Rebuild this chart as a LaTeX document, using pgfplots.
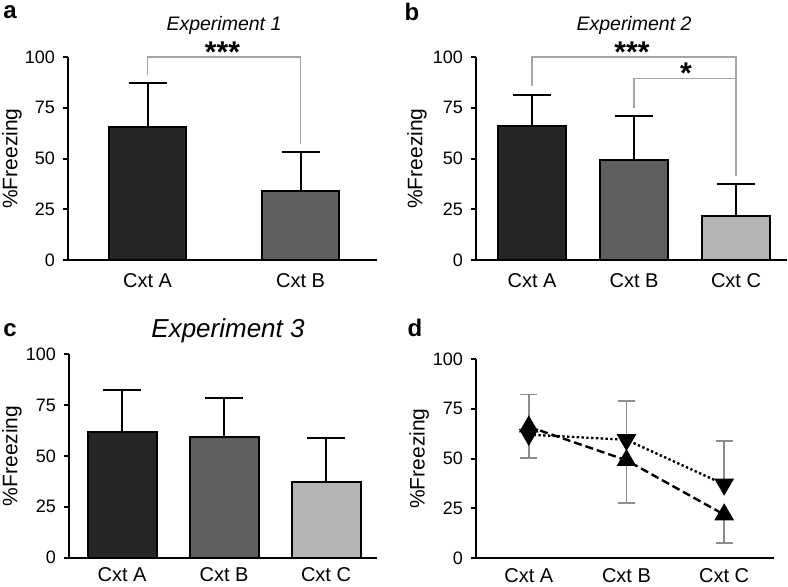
\documentclass[border=0pt]{standalone}
\usepackage{fontspec}
\setmainfont{Liberation Sans}
\usepackage{pgfplots}
\pgfplotsset{compat=1.18}

\definecolor{barA}{HTML}{262626}
\definecolor{barB}{HTML}{5E5E5E}
\definecolor{barC}{HTML}{B4B4B4}
\definecolor{brk}{HTML}{A6A6A6}
\definecolor{ebar}{HTML}{8C8C8C}

\tikzset{bracket/.style={brk, line width=0.7pt}}
\pgfplotsset{
  panel/.style={
    scale only axis, anchor=south west, clip=false,
    axis lines=left, axis line style={-, line width=1pt, black},
    ymin=0, ymax=100, ytick={0,25,50,75,100},
    tick align=outside, ytick pos=left, major tick length=2.5pt,
    major tick style={line width=1pt, black},
    major x tick style={draw=none},
    /pgf/number format/assume math mode=true,
    yticklabel style={font=\fontsize{9}{9}\selectfont, xshift=-0.5pt},
    xticklabel style={font=\fontsize{10}{10}\selectfont},
    ylabel={\%Freezing},
    every axis y label/.style={rotate=90, anchor=center, font=\fontsize{10.5}{10.5}\selectfont},
  },
  errs/.style={error bars/.cd, y dir=plus, y explicit,
    error bar style={line width=1pt, black},
    error mark options={rotate=90, mark size=9.5pt, line width=1pt, black}},
}

\begin{document}
\begin{tikzpicture}
\useasboundingbox (0,0) rectangle (394pt,293pt);

% panel letters and titles
\node[font=\fontsize{12}{12}\bfseries] at (5pt,287pt) {a};
\node[font=\fontsize{12}{12}\bfseries] at (206pt,287pt) {b};
\node[font=\fontsize{12}{12}\bfseries] at (5pt,128pt) {c};
\node[font=\fontsize{12}{12}\bfseries] at (207.5pt,129pt) {d};
\node[font=\fontsize{9.75}{9.75}\itshape] at (112pt,280.5pt) {Experiment 1};
\node[font=\fontsize{9.75}{9.75}\itshape] at (317pt,280.5pt) {Experiment 2};
\node[font=\fontsize{13}{13}\itshape] at (114pt,127.5pt) {Experiment 3};

% (a) Experiment 1
\begin{axis}[panel, at={(34pt,163pt)}, width=154.5pt, height=101.5pt,
  xmin=-0.52, xmax=1.5, xtick={0,1}, xticklabels={Cxt A, Cxt B},
  xticklabel style={yshift=-0.5pt},
  every axis y label/.append style={at={(axis description cs:-0.181,0.5)}}]
\addplot[ybar, bar width=38.5pt, fill=barA, draw=black, line width=1pt, errs]
  coordinates {(0,65.5) +- (0,21.7)};
\addplot[ybar, bar width=38.5pt, fill=barB, draw=black, line width=1pt, errs]
  coordinates {(1,34.1) +- (0,18.9)};
\draw[bracket] (axis cs:0,91) |- (axis cs:1,100) -- (axis cs:1,57);
\node[anchor=base, font=\fontsize{15}{15}\bfseries] at (axis cs:0.49,97.5) {***};
\end{axis}

% (b) Experiment 2
\begin{axis}[panel, at={(238pt,163pt)}, width=155.5pt, height=101.5pt,
  xmin=-0.55, xmax=2.5, xtick={0,1,2}, xticklabels={Cxt A, Cxt B, Cxt C},
  xticklabel style={yshift=-0.5pt},
  every axis y label/.append style={at={(axis description cs:-0.19,0.5)}}]
\addplot[ybar, bar width=34pt, fill=barA, draw=black, line width=1pt, errs]
  coordinates {(0,66.0) +- (0,15.4)};
\addplot[ybar, bar width=34pt, fill=barB, draw=black, line width=1pt, errs]
  coordinates {(1,49.1) +- (0,22.0)};
\addplot[ybar, bar width=34pt, fill=barC, draw=black, line width=1pt, errs]
  coordinates {(2,21.8) +- (0,15.5)};
\draw[bracket] (axis cs:0,85.9) |- (axis cs:2,100) -- (axis cs:2,41.5);
\draw[bracket] (axis cs:1,75) |- (axis cs:2,89.5);
\node[anchor=base, font=\fontsize{15}{15}\bfseries] at (axis cs:0.98,97.5) {***};
\node[anchor=base, font=\fontsize{15}{15}\bfseries] at (axis cs:1.51,87) {*};
\end{axis}

% (c) Experiment 3
\begin{axis}[panel, at={(34.5pt,14.15pt)}, width=154pt, height=101.85pt,
  xmin=-0.52, xmax=2.5, xtick={0,1,2}, xticklabels={Cxt A, Cxt B, Cxt C},
  xticklabel style={yshift=1pt},
  every axis y label/.append style={at={(axis description cs:-0.185,0.5)}}]
\addplot[ybar, bar width=34.5pt, fill=barA, draw=black, line width=1pt, errs]
  coordinates {(0,61.9) +- (0,20.4)};
\addplot[ybar, bar width=34.5pt, fill=barB, draw=black, line width=1pt, errs]
  coordinates {(1,59.4) +- (0,19.2)};
\addplot[ybar, bar width=34.5pt, fill=barC, draw=black, line width=1pt, errs]
  coordinates {(2,37.0) +- (0,21.9)};
\end{axis}

% (d) comparison
\begin{axis}[panel, at={(238pt,14pt)}, width=149pt, height=99.5pt,
  xmin=-0.54, xmax=2.51, xtick={0,1,2}, xticklabels={Cxt A, Cxt B, Cxt C},
  xticklabel style={yshift=1pt},
  every axis y label/.append style={at={(axis description cs:-0.191,0.5)}}]
\addplot[black, line width=1.2pt, dash pattern=on 1.2pt off 1.2pt,
  mark=triangle*, mark size=4.5pt, mark options={rotate=180, solid},
  error bars/.cd, y dir=plus, y explicit,
  error bar style={ebar, line width=0.9pt, solid},
  error mark options={rotate=90, mark size=4.2pt, ebar, line width=0.9pt}]
  coordinates {(0,62.0) +- (0,20.2) (1,59.4) +- (0,19.3) (2,37.0) +- (0,21.8)};
\addplot[black, line width=1.2pt, dash pattern=on 4pt off 2pt,
  mark=triangle*, mark size=4.5pt, mark options={solid},
  error bars/.cd, y dir=minus, y explicit,
  error bar style={ebar, line width=0.9pt, solid},
  error mark options={rotate=90, mark size=4.2pt, ebar, line width=0.9pt}]
  coordinates {(0,66.0) +- (0,15.6) (1,49.1) +- (0,21.4) (2,21.8) +- (0,14.2)};
\end{axis}
\end{tikzpicture}
\end{document}
